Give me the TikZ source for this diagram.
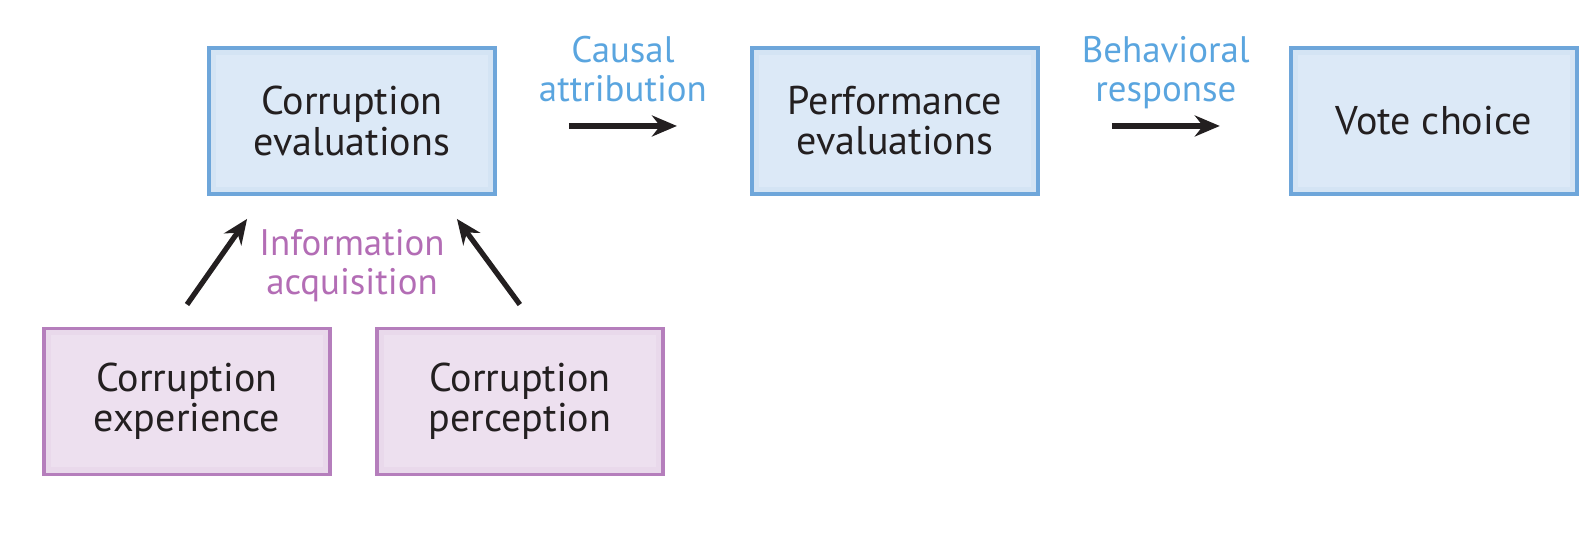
\documentclass[tikz,border=0pt]{standalone}
\usepackage{fontspec}
\setmainfont{PT Sans}
\usepackage{tikz}
\usetikzlibrary{arrows.meta, positioning}
\definecolor{boxblue}{HTML}{DCE9F7}
\definecolor{lineblue}{HTML}{6EA6DA}
\definecolor{textblue}{HTML}{5AA5DF}
\definecolor{boxpurple}{HTML}{EDE0EF}
\definecolor{linepurple}{HTML}{B57EBC}
\definecolor{textpurple}{HTML}{B36DB5}
\definecolor{ink}{HTML}{231F20}

\begin{document}
\begin{tikzpicture}[
        font=\fontsize{11.4pt}{11.4pt}\selectfont,
        node distance=2.5cm,
        box/.style={draw, rectangle, minimum width=2.86cm, minimum height=1.46cm, align=center, line width=1.1pt, text=ink},
        bluebox/.style={box, fill=boxblue, draw=lineblue,
            path picture={\draw[line width=0.14cm, draw=lineblue, opacity=0.07] (path picture bounding box.south west) rectangle (path picture bounding box.north east);}},
        purplebox/.style={box, fill=boxpurple, draw=linepurple,
            path picture={\draw[line width=0.14cm, draw=linepurple, opacity=0.07] (path picture bounding box.south west) rectangle (path picture bounding box.north east);}},
        steplabel/.style={align=center, inner sep=0pt, text depth=0pt, font=\fontsize{10.5pt}{11pt}\selectfont},
        arrow/.style={-{Stealth[length=0.25cm, width=0.21cm]}, line width=1.5pt, draw=ink}
    ]
        \useasboundingbox (0,0) rectangle (15.96,5.44);

        % Top row: evaluations and vote
        \node[bluebox] (eval) at (3.52,4.23) {Corruption\\evaluations};
        \node[bluebox, right=2.53cm of eval] (perf) {Performance\\evaluations};
        \node[bluebox, right=2.49cm of perf] (vote) {Vote choice};

        \draw[arrow] ([xshift=0.72cm, yshift=-0.05cm]eval.east) -- node[steplabel, above=0.22cm, text=textblue] {Causal\\attribution} ([xshift=-0.73cm, yshift=-0.05cm]perf.west);
        \draw[arrow] ([xshift=0.72cm, yshift=-0.05cm]perf.east) -- node[steplabel, above=0.22cm, text=textblue] {Behavioral\\response} ([xshift=-0.69cm, yshift=-0.05cm]vote.west);

        % Bottom row: sources of information
        \node[purplebox] (exper) at (1.87,1.425) {Corruption\\experience};
        \node[purplebox, right=0.43cm of exper] (percep) {Corruption\\perception};

        \draw[arrow] ([yshift=0.22cm]exper.north) -- ([xshift=0.4cm, yshift=-0.23cm]eval.south west);
        \draw[arrow] ([yshift=0.22cm]percep.north) -- ([xshift=-0.4cm, yshift=-0.23cm]eval.south east);
        \node[steplabel, below=0.33cm of eval, text=textpurple] (info) {Information\\acquisition};
    \end{tikzpicture}
\end{document}
